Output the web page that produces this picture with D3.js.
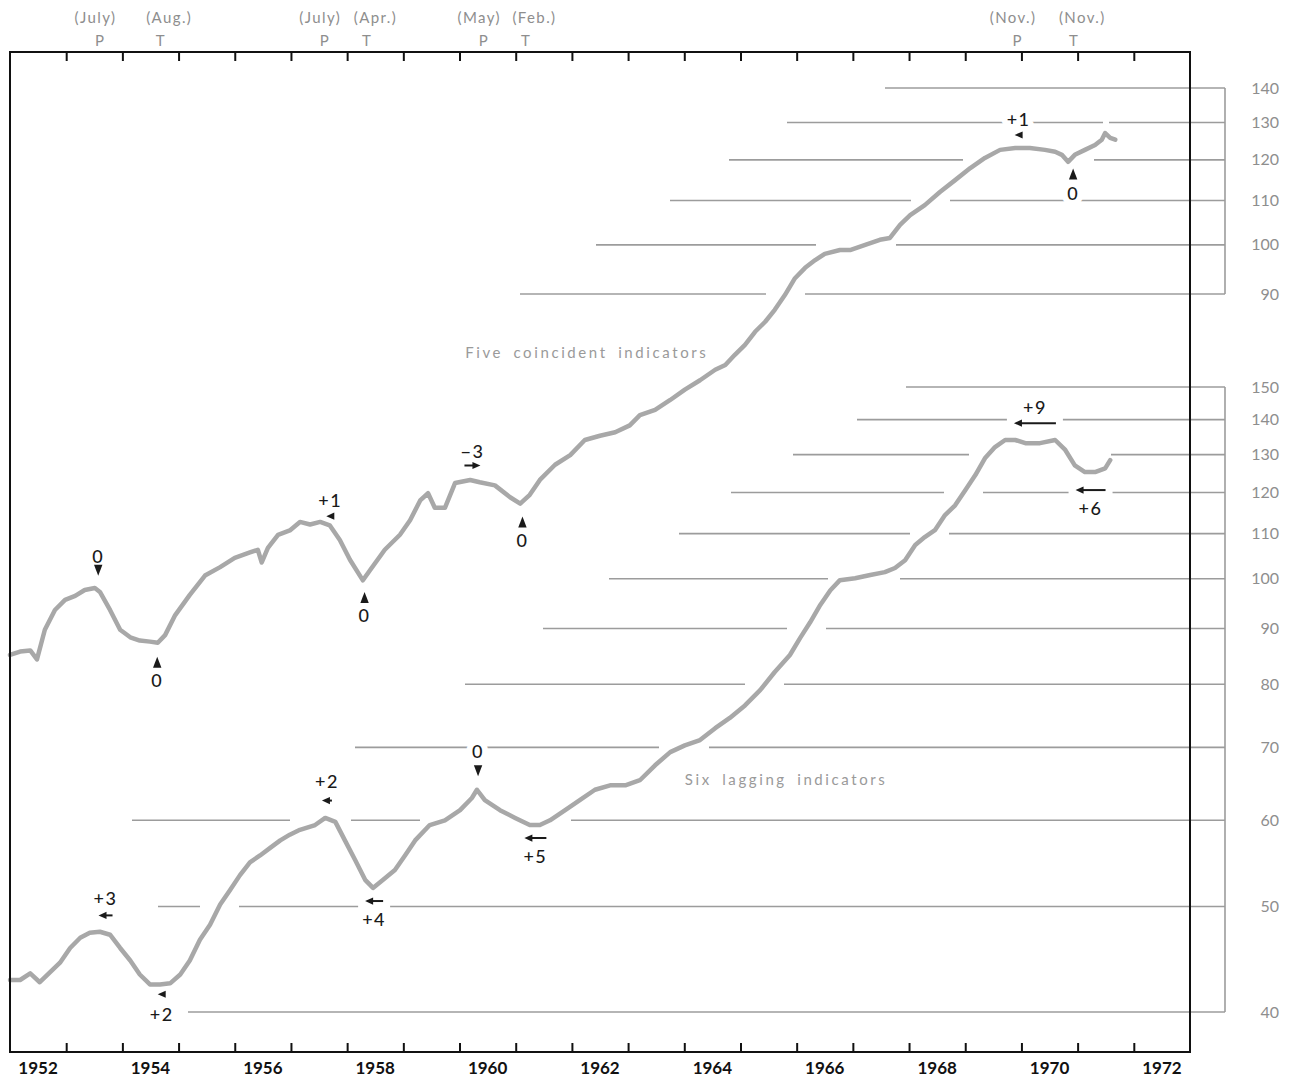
<!DOCTYPE html>
<html><head><meta charset="utf-8">
<script src="https://cdn.jsdelivr.net/npm/d3@7"></script>
<style>
html,body{margin:0;padding:0;background:#fff;}
svg{display:block;}
text{font-family:Lato,"Noto Sans","DejaVu Sans",sans-serif;}
</style></head>
<body><svg id="c" width="1294" height="1079"></svg>
<script>
// ---------------- DATA ----------------
const coincidentDates = [1952.00,1952.18,1952.36,1952.48,1952.62,1952.80,1952.98,1953.16,1953.33,1953.51,1953.60,1953.78,1953.96,1954.14,1954.31,1954.49,1954.63,1954.76,1954.94,1955.20,1955.47,1955.74,1956.00,1956.27,1956.41,1956.48,1956.59,1956.77,1956.98,1957.16,1957.34,1957.52,1957.69,1957.87,1958.05,1958.28,1958.41,1958.67,1958.94,1959.12,1959.30,1959.44,1959.56,1959.74,1959.92,1960.19,1960.36,1960.63,1960.90,1961.08,1961.25,1961.43,1961.70,1961.97,1962.23,1962.50,1962.77,1963.03,1963.21,1963.48,1963.75,1964.01,1964.28,1964.55,1964.73,1964.90,1965.08,1965.26,1965.44,1965.61,1965.79,1965.97,1966.15,1966.33,1966.50,1966.77,1966.95,1967.22,1967.48,1967.66,1967.84,1968.02,1968.28,1968.55,1968.82,1969.09,1969.35,1969.62,1969.89,1970.15,1970.42,1970.60,1970.72,1970.83,1970.95,1971.13,1971.31,1971.43,1971.49,1971.58,1971.67];
const coincidentValues = [41.5,41.8,41.9,41.1,43.8,45.7,46.7,47.1,47.7,47.9,47.5,45.7,43.8,43.1,42.8,42.7,42.6,43.3,45.2,47.2,49.2,50.1,51.1,51.7,52.0,50.6,52.2,53.7,54.2,55.2,54.9,55.2,54.8,53.1,50.9,48.7,49.8,52.0,53.7,55.4,57.8,58.7,56.9,56.9,60.0,60.4,60.1,59.7,58.2,57.4,58.5,60.4,62.4,63.7,65.8,66.4,66.9,67.9,69.4,70.2,71.7,73.3,74.8,76.5,77.3,79.0,80.7,83.0,84.8,87.0,89.8,93.1,95.2,96.8,98.1,98.9,98.9,100.0,101.1,101.5,104.4,106.6,108.9,112.0,114.9,117.9,120.5,122.6,123.1,123.1,122.6,122.1,121.3,119.5,121.3,122.6,123.9,125.3,127.1,125.8,125.3];

const laggingDates = [1952.00,1952.18,1952.36,1952.53,1952.71,1952.89,1953.07,1953.25,1953.42,1953.60,1953.78,1953.96,1954.14,1954.31,1954.49,1954.67,1954.85,1955.03,1955.20,1955.38,1955.56,1955.74,1955.92,1956.09,1956.27,1956.45,1956.63,1956.81,1956.98,1957.16,1957.43,1957.61,1957.79,1957.96,1958.14,1958.32,1958.46,1958.64,1958.85,1959.03,1959.21,1959.47,1959.74,1960.01,1960.22,1960.31,1960.45,1960.72,1960.99,1961.25,1961.43,1961.61,1961.88,1962.14,1962.41,1962.68,1962.95,1963.21,1963.48,1963.75,1964.01,1964.28,1964.55,1964.81,1965.08,1965.35,1965.61,1965.88,1966.06,1966.24,1966.42,1966.60,1966.77,1967.04,1967.31,1967.57,1967.75,1967.93,1968.11,1968.28,1968.46,1968.64,1968.82,1969.00,1969.18,1969.35,1969.53,1969.71,1969.89,1970.07,1970.33,1970.60,1970.78,1970.95,1971.13,1971.31,1971.49,1971.58];
const laggingValues = [42.8,42.8,43.4,42.6,43.5,44.4,45.8,46.8,47.3,47.4,47.1,45.8,44.6,43.3,42.4,42.4,42.5,43.3,44.6,46.6,48.1,50.2,51.8,53.4,54.9,55.7,56.6,57.5,58.2,58.8,59.4,60.3,59.8,57.5,55.2,52.9,52.0,52.9,54.0,55.7,57.5,59.4,60.0,61.3,62.9,64.0,62.6,61.3,60.3,59.4,59.4,60.0,61.3,62.6,64.0,64.6,64.6,65.3,67.4,69.3,70.3,71.1,72.9,74.5,76.5,79.0,82.1,85.1,88.2,91.2,94.6,97.6,99.7,100.1,100.8,101.4,102.3,104.0,107.4,109.2,110.8,114.4,116.8,120.6,124.5,129.0,132.1,134.1,134.1,133.2,133.2,134.1,131.3,127.1,125.3,125.3,126.3,128.5];

const topTicks = [90,100,110,120,130,140];
const bottomTicks = [40,50,60,70,80,90,100,110,120,130,140,150];
const yearLabels = [1952,1954,1956,1958,1960,1962,1964,1966,1968,1970,1972];

const turnMonths = ["(July)","(Aug.)","(July)","(Apr.)","(May)","(Feb.)","(Nov.)","(Nov.)"];
const turnTypes  = ["P","T","P","T","P","T","P","T"];
const turnDates  = [1953.54,1954.62,1957.54,1958.29,1960.37,1961.12,1969.87,1970.87];

// lead/lag annotations
const coincidentNotes = ["0","0","+1","0","\u22123","0","+1","0"];
const coincidentNoteDates = [1953.57,1954.62,1957.70,1958.31,1960.23,1961.12,1969.95,1970.92];
const laggingNotes = ["+3","+2","+2","+4","0","+5","+9","+6"];
const laggingNoteDates = [1953.70,1954.70,1957.64,1958.48,1960.33,1961.35,1970.24,1971.23];

// ---------------- LAYOUT ----------------
const svg = d3.select("#c");
const L = 10, R = 1190, T = 52, B = 1052, BRACKET = 1225;
const x = d3.scaleLinear().domain([1952, 1973]).range([L, R]);
const yTop = d3.scaleLog().domain([90, 140]).range([294, 88]);
const yBot = d3.scaleLog().domain([40, 150]).range([1012, 387]);

const gridColor = "#9c9c9c", lineColor = "#a8a8a8", labelGrey = "#8e8e8e";

const topGridStart = {90:1961.08,100:1962.43,110:1963.75,120:1964.80,130:1965.83,140:1967.57};
const botGridStart = {40:1955.17,50:1954.63,60:1954.17,70:1958.14,80:1960.10,90:1961.49,100:1962.66,110:1963.91,120:1964.83,130:1965.93,140:1967.07,150:1967.95};

const coinPts = coincidentDates.map((d,i)=>[x(d), yTop(coincidentValues[i])]);
const lagPts  = laggingDates.map((d,i)=>[x(d), yBot(laggingValues[i])]);

function curveYAt(pts, px){
  if (px < pts[0][0] || px > pts[pts.length-1][0]) return null;
  for (let i=1;i<pts.length;i++){
    if (px <= pts[i][0]){
      const a=pts[i-1], b=pts[i], t=(px-a[0])/(b[0]-a[0]||1);
      return a[1]+t*(b[1]-a[1]);
    }
  }
  return null;
}
function crossings(pts, gy){
  const xs=[];
  for (let i=1;i<pts.length;i++){
    const a=pts[i-1], b=pts[i];
    if ((a[1]-gy)*(b[1]-gy) <= 0 && a[1]!==b[1]){
      xs.push(a[0] + (gy-a[1])/(b[1]-a[1])*(b[0]-a[0]));
    }
  }
  return xs;
}
function gridSegments(pts, x0, gy){
  const cr = crossings(pts, gy);
  const segs=[]; let start=null;
  for (let px=Math.round(x0); px<=BRACKET; px++){
    const cy = curveYAt(pts, px);
    let hide = false;
    if (cy!==null && Math.abs(cy-gy) < 14) hide = true;
    for (const c of cr) if (Math.abs(px-c) < 19) hide = true;
    if (!hide && start===null) start=px;
    if ((hide || px===BRACKET) && start!==null){
      const end = hide ? px-1 : px;
      if (end-start >= 36 || end===BRACKET) segs.push([start,end]);
      start=null;
    }
  }
  return segs;
}

const gGrid = svg.append("g").attr("stroke", gridColor).attr("stroke-width", 1.6).attr("fill","none");
function drawScale(ticks, scale, startMap, pts){
  ticks.forEach(v=>{
    const gy = scale(v);
    gridSegments(pts, x(startMap[v]), gy).forEach(s=>{
      gGrid.append("line").attr("x1",s[0]).attr("x2",s[1]).attr("y1",gy).attr("y2",gy);
    });
    svg.append("text").attr("x",1279).attr("y",gy+5.5).attr("text-anchor","end")
      .attr("fill",labelGrey).attr("font-size",16).text(v);
  });
  gGrid.append("line").attr("x1",BRACKET).attr("x2",BRACKET)
    .attr("y1",scale(ticks[ticks.length-1])).attr("y2",scale(ticks[0]));
}
drawScale(topTicks, yTop, topGridStart, coinPts);
drawScale(bottomTicks, yBot, botGridStart, lagPts);

// annotations
const gHalo = svg.append("g");
const gAnn = svg.append("g");

function arrowPath(cx, cy, dir, len){
  const hl = 8, hw = 3.6;
  const half = len/2;
  if (dir==="down" || dir==="up"){
    const s = dir==="down" ? 1 : -1;
    const tipY = cy + s*5;
    return {head:`M${cx},${tipY} L${cx-4.2},${tipY-s*11} L${cx+4.2},${tipY-s*11} Z`, shaft:null, x0:cx-5, x1:cx+5};
  }
  const s = dir==="right" ? 1 : -1;
  const tipX = cx + s*half;
  const tailX = cx - s*half;
  return {head:`M${tipX},${cy} L${tipX-s*hl},${cy-hw} L${tipX-s*hl},${cy+hw} Z`,
          shaft: len>hl ? [tailX, tipX-s*hl+s*1, cy] : null,
          x0:Math.min(tipX,tailX), x1:Math.max(tipX,tailX)};
}

function annotate(pts, date, label, side, dir, len, textDy, arrowDy){
  const cx = x(date);
  const cy = curveYAt(pts, x(date));
  const s = side==="above" ? -1 : 1;
  const ay = cy + s*arrowDy;
  const ty = cy + s*textDy;
  const a = arrowPath(cx, ay, dir, len);
  gHalo.append("text").attr("x",cx).attr("y",ty+6.5).attr("text-anchor","middle")
    .attr("font-size",18).attr("font-weight",500).attr("fill","#fff").attr("letter-spacing",1.5)
    .attr("stroke","#fff").attr("stroke-width",12).attr("stroke-linejoin","round").text(label);
  gHalo.append("rect").attr("x",a.x0-7).attr("y",ay-7).attr("width",a.x1-a.x0+14).attr("height",14)
    .attr("fill","#fff");
  gAnn.append("text").attr("x",cx).attr("y",ty+6.5).attr("text-anchor","middle")
    .attr("font-size",18).attr("font-weight",500).attr("fill","#1a1a1a").attr("letter-spacing",1.5).text(label);
  if (a.shaft) gAnn.append("line").attr("x1",a.shaft[0]).attr("x2",a.shaft[1]).attr("y1",ay).attr("y2",ay)
    .attr("stroke","#1a1a1a").attr("stroke-width",2);
  gAnn.append("path").attr("d",a.head).attr("fill","#1a1a1a");
}

const coinStyle = [
  ["above","down",0,34,20],["below","up",0,38,19],["above","left",8,26,10],["below","up",0,38,19],
  ["above","right",16,29,15],["below","up",0,39,20],["above","left",8,28,13],["below","up",0,37,17]];
coincidentNotes.forEach((t,i)=>{
  const st = coinStyle[i];
  annotate(coinPts, coincidentNoteDates[i], t, st[0], st[1], st[2], st[3], st[4]);
});
const lagStyle = [
  ["above","left",14,35,18],["below","left",8,30,10],["above","left",10,37,18],["below","left",18,32,14],
  ["above","down",0,40,20],["below","left",22,31,13],["above","left",42,36,20],["below","left",30,36,18]];
laggingNotes.forEach((t,i)=>{
  const st = lagStyle[i];
  annotate(lagPts, laggingNoteDates[i], t, st[0], st[1], st[2], st[3], st[4]);
});

// series lines
const line = d3.line().x(d=>d[0]).y(d=>d[1]);
svg.append("path").attr("d", line(coinPts)).attr("fill","none").attr("stroke",lineColor)
  .attr("stroke-width",4.5).attr("stroke-linejoin","round").attr("stroke-linecap","round");
svg.append("path").attr("d", line(lagPts)).attr("fill","none").attr("stroke",lineColor)
  .attr("stroke-width",4.5).attr("stroke-linejoin","round").attr("stroke-linecap","round");
svg.node().appendChild(gAnn.node());

// series titles
svg.append("text").attr("x", x(1960.10)).attr("y", yTop(78.4)).attr("fill","#9a9a9a")
  .attr("font-size",15).attr("letter-spacing",2.6).attr("word-spacing",4).text("Five coincident indicators");
svg.append("text").attr("x", x(1964.01)).attr("y", yBot(64.6)).attr("fill","#9a9a9a")
  .attr("font-size",15).attr("letter-spacing",2.6).attr("word-spacing",4).text("Six lagging indicators");

// frame
svg.append("rect").attr("x",L).attr("y",T).attr("width",R-L).attr("height",B-T)
  .attr("fill","none").attr("stroke","#111").attr("stroke-width",2);

// year ticks
const yearTicks = d3.range(1953, 1973);
svg.append("g").attr("transform",`translate(0,${T})`)
  .call(d3.axisTop(x).tickValues(yearTicks).tickSize(-9).tickFormat(""))
  .call(g=>g.select(".domain").remove())
  .call(g=>g.selectAll("line").attr("stroke","#111").attr("stroke-width",2));
svg.append("g").attr("transform",`translate(0,${B})`)
  .call(d3.axisBottom(x).tickValues(yearTicks).tickSize(-9).tickFormat(""))
  .call(g=>g.select(".domain").remove())
  .call(g=>g.selectAll("line").attr("stroke","#111").attr("stroke-width",2));

// year labels (centred in year)
yearLabels.forEach(yr=>{
  svg.append("text").attr("x", x(yr+0.5)).attr("y", 1074).attr("text-anchor","middle")
    .attr("font-size",17).attr("font-weight",700).attr("fill","#111").text(yr);
});

// turning point dates
turnDates.forEach((d,i)=>{
  const shift = turnTypes[i]==="P" ? -4 : 9;
  svg.append("text").attr("x", x(d)+3+shift).attr("y", 23).attr("text-anchor","middle")
    .attr("font-size",15).attr("fill",labelGrey).attr("letter-spacing",1.4).text(turnMonths[i]);
  svg.append("text").attr("x", x(d)+3).attr("y", 46).attr("text-anchor","middle")
    .attr("font-size",15).attr("fill",labelGrey).text(turnTypes[i]);
});
</script></body></html>
